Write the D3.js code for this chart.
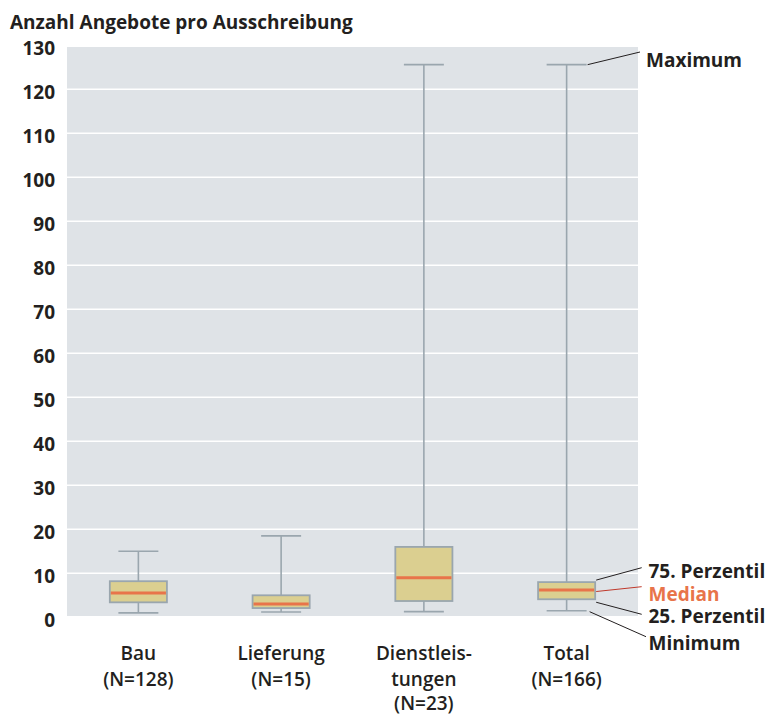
<!DOCTYPE html>
<html><head><meta charset="utf-8">
<script src="https://cdn.jsdelivr.net/npm/d3@7"></script>
<style>
body{margin:0;background:#fff;}
text{font-family:'Open Sans',sans-serif;fill:#231f20;}
</style>
</head><body>
<svg id="c" width="780" height="715"></svg>
<script>
const categories = ["Bau", "Lieferung", "Dienstleistungen", "Total"];
const labelLines = [["Bau", "(N=128)"], ["Lieferung", "(N=15)"], ["Dienstleis-", "tungen", "(N=23)"], ["Total", "(N=166)"]];
const minimum = [1, 1.2, 1.3, 1.5];
const q1 = [3.4, 2.1, 3.7, 4.1];
const median = [5.5, 3, 9, 6.2];
const q3 = [8.2, 5, 16, 8];
const maximum = [15, 18.5, 125.6, 125.6];
const yTicks = [0, 10, 20, 30, 40, 50, 60, 70, 80, 90, 100, 110, 120, 130];
const title = "Anzahl Angebote pro Ausschreibung";
const annot = ["Maximum", "75. Perzentil", "Median", "25. Perzentil", "Minimum"];

const svg = d3.select("#c");
const x = d3.scaleBand().domain(categories).range([67, 638]);
const y = d3.scaleLinear().domain([0, 130]).range([617.3, 45.3]);
const boxW = x.bandwidth() * 0.4;
const capW = x.bandwidth() * 0.28;

// plot background
svg.append("rect").attr("x", 67).attr("y", 47).attr("width", 571).attr("height", 569).attr("fill", "#dfe3e7");

// grid
svg.selectAll(".grid").data(yTicks.filter(v => v > 0 && v < 130)).join("line")
  .attr("x1", 67).attr("x2", 638).attr("y1", d => y(d)).attr("y2", d => y(d))
  .attr("stroke", "#ffffff").attr("stroke-width", 1.6);

// y labels
svg.selectAll(".yl").data(yTicks).join("text")
  .attr("x", 55).attr("y", d => y(d) + 10).attr("text-anchor", "end")
  .attr("font-size", 19).attr("font-weight", 700).text(d => d);

// title
svg.append("text").attr("x", 10).attr("y", 29).attr("font-size", 19).attr("font-weight", 700).text(title);

const data = categories.map((c, i) => ({c, min: minimum[i], q1: q1[i], med: median[i], q3: q3[i], max: maximum[i]}));
const grey = "#9aa6ae";
const g = svg.selectAll(".box").data(data).join("g");
const cx = d => x(d.c) + x.bandwidth() / 2;
// whisker vertical
g.append("line").attr("x1", cx).attr("x2", cx).attr("y1", d => y(d.max)).attr("y2", d => y(d.min))
  .attr("stroke", grey).attr("stroke-width", 1.6);
// caps
["max", "min"].forEach(k => {
  g.append("line").attr("x1", d => cx(d) - capW / 2).attr("x2", d => cx(d) + capW / 2)
    .attr("y1", d => y(d[k])).attr("y2", d => y(d[k])).attr("stroke", grey).attr("stroke-width", 1.6);
});
// box
g.append("rect").attr("x", d => cx(d) - boxW / 2).attr("width", boxW)
  .attr("y", d => y(d.q3)).attr("height", d => y(d.q1) - y(d.q3))
  .attr("fill", "#dbcf90").attr("stroke", grey).attr("stroke-width", 1.8);
// median
g.append("line").attr("x1", d => cx(d) - boxW / 2 + 1).attr("x2", d => cx(d) + boxW / 2 - 1)
  .attr("y1", d => y(d.med)).attr("y2", d => y(d.med)).attr("stroke", "#e8744a").attr("stroke-width", 3);

// category labels
const lineY = [660, 685.5, 709.5];
labelLines.forEach((lines, i) => {
  const t = svg.append("text").attr("text-anchor", "middle").attr("font-size", 19).attr("font-weight", 600);
  lines.forEach((l, j) => {
    t.append("tspan").attr("x", x(categories[i]) + x.bandwidth() / 2).attr("y", lineY[j]).text(l);
  });
});

// annotations for Total
const tot = data[3];
const tx = cx(tot);
const ax = [
  {name: annot[0], x1: tx + capW / 2 + 1, y1: y(tot.max), x2: 640, y2: 52, ty: 66.7, tx: 646, col: "#231f20", lc: "#231f20"},
  {name: annot[1], x1: tx + boxW / 2 + 1, y1: y(tot.q3) - 2, x2: 641.7, y2: 567.7, ty: 577.7, tx: 648.5, col: "#231f20", lc: "#231f20"},
  {name: annot[2], x1: tx + boxW / 2 + 1, y1: y(tot.med) + 1.5, x2: 641.7, y2: 586.7, ty: 600.7, tx: 648.5, col: "#e8744a", lc: "#c0392b"},
  {name: annot[3], x1: tx + boxW / 2 + 1, y1: y(tot.q1) + 3, x2: 641.7, y2: 614.3, ty: 623.3, tx: 648.5, col: "#231f20", lc: "#231f20"},
  {name: annot[4], x1: tx + capW / 2 + 3, y1: y(tot.min) + 1, x2: 646, y2: 636.7, ty: 650, tx: 648.5, col: "#231f20", lc: "#231f20"}
];
ax.forEach(a => {
  svg.append("line").attr("x1", a.x1).attr("y1", a.y1).attr("x2", a.x2).attr("y2", a.y2)
    .attr("stroke", a.lc).attr("stroke-width", 1);
  svg.append("text").attr("x", a.tx).attr("y", a.ty).attr("font-size", 19).attr("font-weight", 700)
    .style("fill", a.col).text(a.name);
});
</script>
</body></html>
